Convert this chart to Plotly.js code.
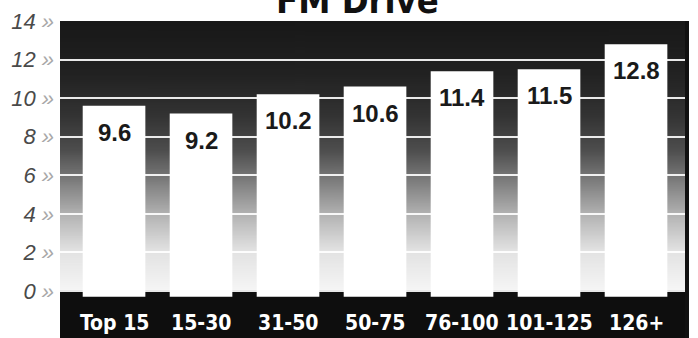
<!DOCTYPE html>
<html>
<head>
<meta charset="utf-8">
<script src="https://cdn.plot.ly/plotly-3.0.1.min.js"></script>
<style>
  html, body { margin: 0; padding: 0; background: #ffffff; }
  #chart { width: 698px; height: 338px; }
</style>
</head>
<body>
<div id="chart"></div>
<script>
// FM Drive: average listening by market rank group
const categories = ['Top 15', '15-30', '31-50', '50-75', '76-100', '101-125', '126+'];
const values = [9.6, 9.2, 10.2, 10.6, 11.4, 11.5, 12.8];
const tickValues = [0, 2, 4, 6, 8, 10, 12, 14];

const CONDENSED = 'DejaVu Sans Condensed, Liberation Sans Narrow, Arial Narrow, sans-serif';

// Vertical backdrop: near-black at the top fading to white near the base
function backdrop() {
  const c = document.createElement('canvas');
  c.width = 4; c.height = 280;
  const g = c.getContext('2d');
  const grad = g.createLinearGradient(0, 0, 0, 280);
  grad.addColorStop(0.00, '#181818');
  grad.addColorStop(0.20, '#222222');
  grad.addColorStop(0.35, '#333333');
  grad.addColorStop(0.48, '#4e4e4e');
  grad.addColorStop(0.60, '#808080');
  grad.addColorStop(0.72, '#b4b4b4');
  grad.addColorStop(0.85, '#e2e2e2');
  grad.addColorStop(1.00, '#f6f6f6');
  g.fillStyle = grad;
  g.fillRect(0, 0, 4, 280);
  return c.toDataURL('image/png');
}

const bars = {
  type: 'bar',
  x: categories,
  y: values.map(v => v + 0.3),
  base: -0.3,
  width: 0.72,
  marker: { color: '#ffffff', line: { width: 0 } },
  hoverinfo: 'skip'
};

const valueLabels = categories.map((c, i) => ({
  x: c, y: values[i], xref: 'x', yref: 'y',
  text: values[i].toFixed(1),
  showarrow: false, yanchor: 'top', yshift: -11,
  font: { family: 'Liberation Sans, Arial, sans-serif', size: 24, color: '#1a1a1a', weight: 'bold' }
}));

const categoryLabels = categories.map(c => ({
  x: c, y: -1.65, xref: 'x', yref: 'y',
  text: c, showarrow: false, yanchor: 'middle',
  font: { family: CONDENSED, size: 21, color: '#ffffff', weight: 'bold' }
}));

const title = {
  x: 0.474, y: 1, xref: 'paper', yref: 'paper', xanchor: 'center',
  text: 'FM Drive', showarrow: false, yanchor: 'bottom', yshift: -2,
  font: { family: CONDENSED, size: 36, color: '#111111', weight: 'bold' }
};

const layout = {
  width: 698, height: 338,
  margin: { l: 60, r: 11, t: 21, b: 0, pad: 0 },
  paper_bgcolor: '#ffffff',
  plot_bgcolor: '#181818',
  showlegend: false,
  xaxis: {
    range: [-0.621, 6.586],
    showticklabels: false, showgrid: false, zeroline: false, ticks: '',
    fixedrange: true
  },
  yaxis: {
    range: [-2.44, 14],
    tickvals: tickValues,
    ticktext: tickValues.map(v => v + ' <span style="color:#a8a8a8">»</span>'),
    tickfont: { family: 'Liberation Sans, Arial, sans-serif', size: 22, color: '#4a4a4a', style: 'italic' },
    ticks: '', ticklabelstandoff: 5,
    showgrid: true, gridcolor: 'rgba(255,255,255,0.9)', gridwidth: 2,
    zeroline: false, showline: false, fixedrange: true
  },
  images: [{
    source: backdrop(), xref: 'paper', yref: 'y',
    x: 0, y: 14, sizex: 1, sizey: 14,
    sizing: 'stretch', layer: 'below', xanchor: 'left', yanchor: 'top'
  }],
  shapes: [
    { type: 'rect', xref: 'paper', yref: 'y', x0: 0, x1: 1, y0: -2.44, y1: 0.05,
      fillcolor: '#0e0e0e', line: { width: 0 }, layer: 'below' },
    { type: 'line', xref: 'paper', yref: 'paper', x0: 1, x1: 1, y0: 0, y1: 1,
      line: { color: '#111111', width: 4 }, layer: 'above' }
  ],
  annotations: [title].concat(valueLabels, categoryLabels)
};

Plotly.newPlot('chart', [bars], layout, { displayModeBar: false, staticPlot: true });
</script>
</body>
</html>
